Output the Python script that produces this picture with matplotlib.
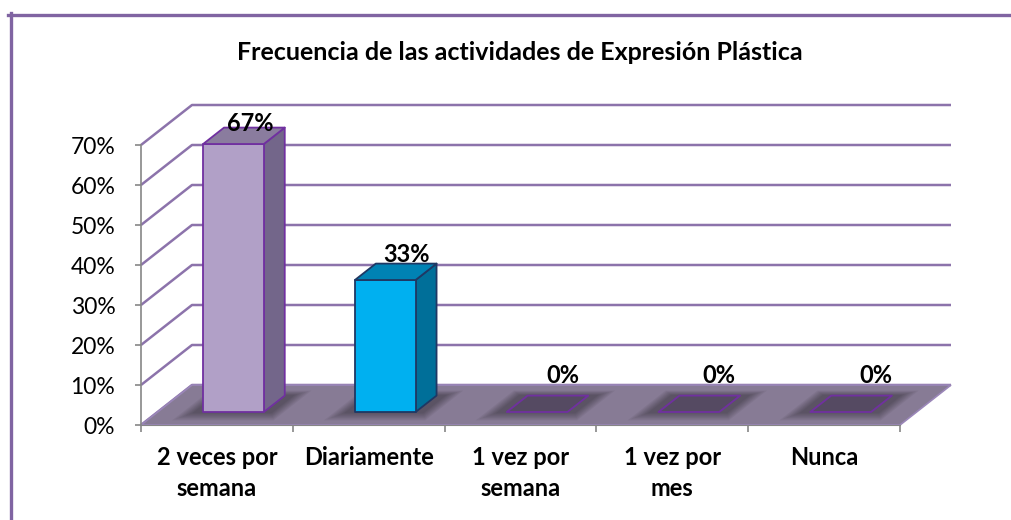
import numpy as np
import matplotlib.pyplot as plt
from matplotlib.patches import Polygon
from matplotlib.lines import Line2D

categories = ["2 veces por\nsemana", "Diariamente", "1 vez por\nsemana", "1 vez por\nmes", "Nunca"]
values = [67, 33, 0, 0, 0]
yticks = [0, 10, 20, 30, 40, 50, 60, 70]
title = "Frecuencia de las actividades de Expresión Plástica"

W, H = 1012, 520
DX = 51 / 151.8   # depth shift in category units
DY = 10.0         # depth shift in percent units
D0, DD = 0.325, 0.41
BW = 0.4

PURPLE = "#8064A2"
GRAY = "#868686"
FONT = "Lato"

fig = plt.figure(figsize=(W / 100, H / 100), dpi=100)
fig.patch.set_facecolor("white")

# figure border (top and left)
fig.add_artist(Line2D([8 / W, 1], [1 - 14.5 / H, 1 - 14.5 / H], color=PURPLE, lw=2.4))
fig.add_artist(Line2D([10.5 / W, 10.5 / W], [0, 1 - 13 / H], color=PURPLE, lw=2.4))

ax = fig.add_axes([141 / W, 95 / H, 759 / W, 280 / H])
ax.set_xlim(0, 5)
ax.set_ylim(0, 70)
ax.patch.set_alpha(0)


def proj(x, y, d):
    return x + d * DX, y + d * DY


n = len(categories)

# back wall gridlines
for t in yticks:
    x0, y0 = proj(0, t, 0)
    x1, y1 = proj(0, t, 1)
    x2, y2 = proj(n, t, 1)
    ax.plot([x0, x1, x2], [y0, y1, y2], color=PURPLE, lw=1.8, alpha=0.9,
            clip_on=False, zorder=1, solid_capstyle="butt")

# floor
floor = [proj(0, 0, 0), proj(n, 0, 0), proj(n, 0, 1), proj(0, 0, 1)]
ax.add_patch(Polygon(floor, closed=True, facecolor="#877B95", edgecolor="#9A86B8",
                     lw=1.2, clip_on=False, zorder=2))

styles = [
    dict(front="#B1A0C7", side="#73668A", top="#8A7C9E", edge="#7030A0"),
    dict(front="#00B0F0", side="#006F99", top="#0082B4", edge="#1F3864"),
    dict(front="#554A62", side="#554A62", top="#554A62", edge="#7030A0"),
    dict(front="#554A62", side="#554A62", top="#554A62", edge="#7030A0"),
    dict(front="#554A62", side="#554A62", top="#554A62", edge="#7030A0"),
]

for i, v in enumerate(values):
    st = styles[i]
    xl = i + 0.5 - BW / 2
    xr = i + 0.5 + BW / 2
    # soft shadow on the floor
    for k in range(7):
        e = 0.012 * (7 - k)
        ed = 0.06 * (7 - k)
        pts = [proj(xl - e - 0.05, 0, D0 - ed * 0.5), proj(xr + e + 0.05, 0, D0 - ed * 0.5),
               proj(xr + e + 0.05, 0, D0 + DD + ed * 0.3), proj(xl - e - 0.05, 0, D0 + DD + ed * 0.3)]
        ax.add_patch(Polygon(pts, closed=True, facecolor="black", edgecolor="none",
                             alpha=0.05, clip_on=False, zorder=3))
    # faces
    front = [proj(xl, 0, D0), proj(xr, 0, D0), proj(xr, v, D0), proj(xl, v, D0)]
    side = [proj(xr, 0, D0), proj(xr, 0, D0 + DD), proj(xr, v, D0 + DD), proj(xr, v, D0)]
    top = [proj(xl, v, D0), proj(xr, v, D0), proj(xr, v, D0 + DD), proj(xl, v, D0 + DD)]
    if v > 0:
        ax.add_patch(Polygon(side, closed=True, facecolor=st["side"], edgecolor=st["edge"],
                             lw=1.3, clip_on=False, zorder=4, joinstyle="round"))
        ax.add_patch(Polygon(front, closed=True, facecolor=st["front"], edgecolor=st["edge"],
                             lw=1.3, clip_on=False, zorder=5, joinstyle="round"))
    ax.add_patch(Polygon(top, closed=True, facecolor=st["top"], edgecolor=st["edge"],
                         lw=1.3, clip_on=False, zorder=5, joinstyle="round"))
    # data label
    lx = i + 0.5 + 0.22 + 0.03 * i
    ly = max(v + 10.5 - 0.03 * v, 12.3)
    ax.text(lx, ly, f"{v}%", ha="center", va="center", fontsize=17, fontweight="bold",
            family=FONT, color="black", zorder=8, clip_on=False)

# axes styling
for s in ["top", "right"]:
    ax.spines[s].set_visible(False)
ax.spines["left"].set_color(GRAY)
ax.spines["left"].set_linewidth(1.2)
ax.spines["bottom"].set_color(GRAY)
ax.spines["bottom"].set_linewidth(0.8)
ax.spines["left"].set_zorder(6)
ax.spines["bottom"].set_zorder(6)

ax.set_yticks(yticks)
ax.set_yticklabels([f"{t}%" for t in yticks], family=FONT, fontsize=16.5)
ax.tick_params(axis="y", length=4.5, width=1.2, color=GRAY, pad=14)

ax.set_xticks(np.arange(n + 1))
ax.set_xticklabels([])
ax.tick_params(axis="x", which="major", length=5, width=1.2, color=GRAY)
ax.set_xticks(np.arange(n) + 0.5, minor=True)
ax.set_xticklabels(categories, minor=True, family=FONT, fontsize=17, fontweight="bold",
                   linespacing=1.45)
ax.tick_params(axis="x", which="minor", length=0, pad=15)

fig.text(520 / W, 1 - 52 / H, title, ha="center", va="center", family=FONT,
         fontsize=18, fontweight="bold")

fig.savefig("out.png", dpi=100)
